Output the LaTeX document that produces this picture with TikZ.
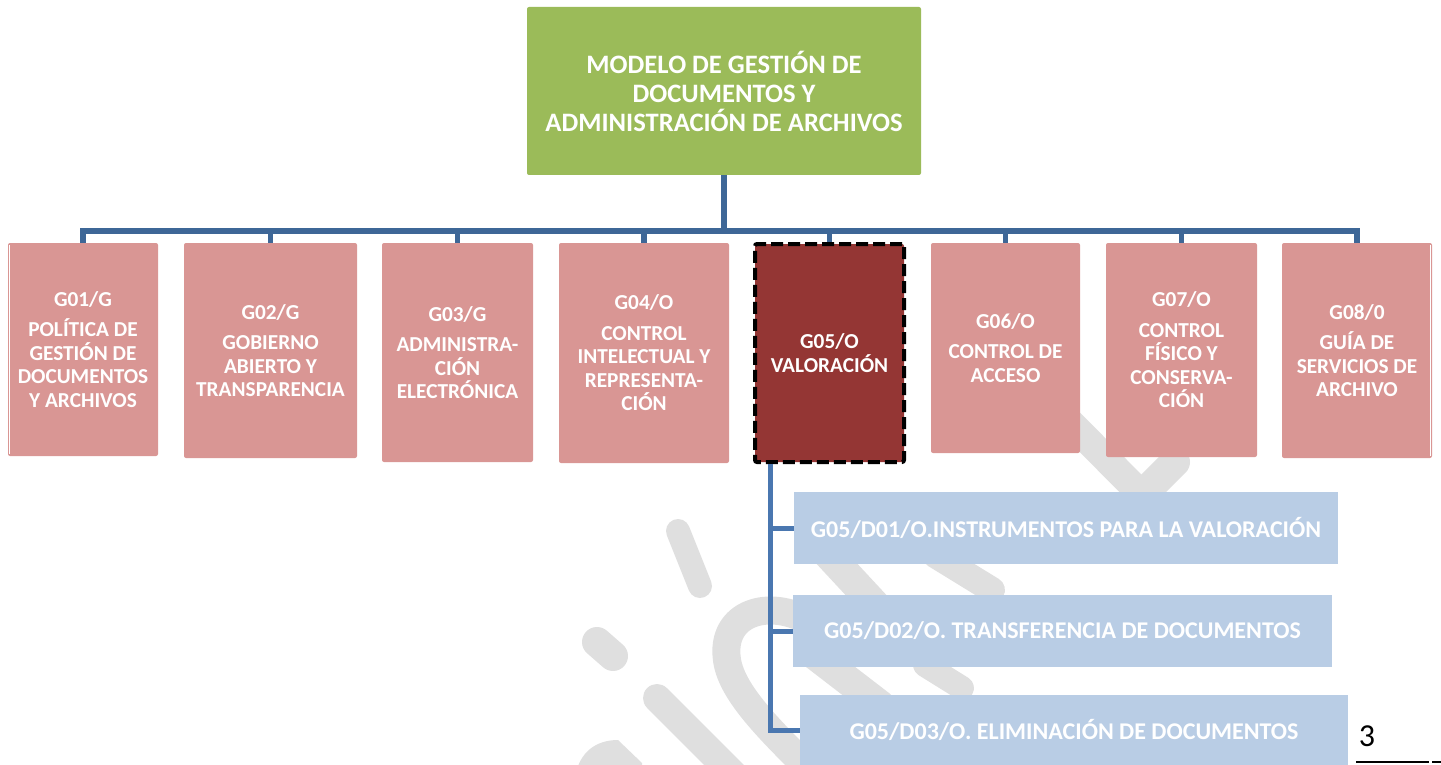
\documentclass[tikz,border=0pt]{standalone}
\usepackage{fontspec}
\setmainfont{Carlito}
\begin{document}
\definecolor{rootgreen}{HTML}{9BBB59}
\definecolor{unitpink}{HTML}{D99694}
\definecolor{unitred}{HTML}{943634}
\definecolor{docblue}{HTML}{B9CDE5}
\definecolor{busblue}{HTML}{3E6797}
\definecolor{subblue}{HTML}{4A77B0}
\definecolor{markgrey}{HTML}{DFDFDF}
\begin{tikzpicture}[x=1pt,y=-1pt,
  box/.style={rectangle,inner sep=0pt,align=center,text=white,font=\bfseries},
  rootbox/.style={box,fill=rootgreen,rounded corners=2pt,font=\fontsize{26.6}{29}\selectfont\bfseries},
  unitbox/.style={box,fill=unitpink,rounded corners=2pt,font=\fontsize{21.3}{23.5}\selectfont\bfseries},
  activebox/.style={box,fill=unitred,draw=black,line width=4pt,dash pattern=on 12pt off 5pt,rounded corners=2pt,font=\fontsize{21.3}{23.5}\selectfont\bfseries},
  docbox/.style={box,fill=docblue,font=\fontsize{24}{27}\selectfont\bfseries},
  bus/.style={draw=busblue,line width=5.5pt},
  sub/.style={draw=subblue,line width=5pt},
  logostroke/.style={draw=markgrey,line cap=round,line join=round},
]
\useasboundingbox (0,0) rectangle (1441,765);

% faint background logo strokes
\begin{scope}
\clip (0,0) rectangle (1441,765);
\draw[logostroke,line width=24pt] (678,531) -- (700,586);
\draw[logostroke,line width=30pt] (597,642) -- (613,656);
\draw[logostroke,line width=28pt] (657,698) -- (745,786);
\draw[logostroke,line width=28pt] (810,622) .. controls (770,598) and (720,612) .. (727,660)
  .. controls (732,695) and (775,735) .. (820,780);
\fill[markgrey] (578,766) .. controls (585,748) and (600,740) .. (618,740) -- (642,763) -- (642,766) -- cycle;
\draw[logostroke,line width=28pt] (1040,392) -- (1135,488);
\draw[logostroke,line width=30pt] (1175,462) -- (1120,517);
\draw[logostroke,line width=28pt] (838,532) .. controls (848,500) and (888,497) .. (905,527);
\draw[logostroke,line width=30pt] (826,552) -- (878,608);
\draw[logostroke,line width=26pt] (935,555) -- (992,590);
\draw[logostroke,line width=30pt] (815,655) -- (880,705);
\draw[logostroke,line width=24pt] (925,665) -- (962,688);
\end{scope}

% root of the model
\node[rootbox,minimum width=394pt,minimum height=168pt] (root) at (724,91)
  {MODELO DE GESTIÓN DE\\DOCUMENTOS Y\\ADMINISTRACIÓN DE ARCHIVOS};

% first level units
\node[unitbox,minimum width=150pt,minimum height=213pt] (g1) at (83,349.5)
  {G01/G\\[7pt]POLÍTICA DE\\GESTIÓN DE\\DOCUMENTOS\\Y ARCHIVOS};
\node[unitbox,minimum width=173pt,minimum height=215pt] (g2) at (270.5,350.5)
  {G02/G\\[7pt]GOBIERNO\\ABIERTO Y\\TRANSPARENCIA};
\node[unitbox,minimum width=151pt,minimum height=219pt] (g3) at (457.5,352.5)
  {G03/G\\[7pt]ADMINISTRA-\\CIÓN\\ELECTRÓNICA};
\node[unitbox,minimum width=170pt,minimum height=220pt] (g4) at (644,353)
  {G04/O\\[7pt]CONTROL\\INTELECTUAL Y\\REPRESENTA-\\CIÓN};
\node[activebox,minimum width=149pt,minimum height=218pt] (g5) at (829.5,353)
  {G05/O\\VALORACIÓN};
\node[unitbox,minimum width=149pt,minimum height=210pt] (g6) at (1005.5,348)
  {G06/O\\[7pt]CONTROL DE\\ACCESO};
\node[unitbox,minimum width=151pt,minimum height=214pt] (g7) at (1181.5,350)
  {G07/O\\[7pt]CONTROL\\FÍSICO Y\\CONSERVA-\\CIÓN};
\node[unitbox,minimum width=150pt,minimum height=215pt] (g8) at (1357,350.5)
  {G08/0\\[7pt]GUÍA DE\\SERVICIOS DE\\ARCHIVO};

% thin inner edges on the outer units
\draw[white,line width=0.8pt] ([xshift=2pt,yshift=-2pt]g1.north west) -- ([xshift=2pt,yshift=2pt]g1.south west);
\draw[white,line width=0.8pt] ([xshift=-2pt,yshift=-2pt]g8.north east) -- ([xshift=-2pt,yshift=2pt]g8.south east);

% second level documents of G05
\node[docbox,minimum width=544pt,minimum height=72pt] (d1) at (1066,528)
  {G05/D01/O.INSTRUMENTOS PARA LA VALORACIÓN};
\node[docbox,minimum width=539pt,minimum height=72pt] (d2) at (1062.5,631)
  {G05/D02/O. TRANSFERENCIA DE DOCUMENTOS};
\node[docbox,minimum width=548pt,minimum height=70pt] (d3) at (1074,730)
  {G05/D03/O. ELIMINACIÓN DE DOCUMENTOS};

% connectors from the root to each unit
\foreach \g in {g1,g2,g3,g4,g5,g6,g7,g8}
  \draw[bus] (root.south) -- ++(0,56) -| (\g.north);

% connectors from G05 to its documents
\foreach \d in {d1,d2,d3}
  \draw[sub] ([xshift=17pt]g5.south west) |- (\d.west);

% page number and footer rule
\node[font=\fontsize{32}{36}\selectfont,text=black,inner sep=0pt] (pnum) at (1367,736) {3};
\coordinate (ruleA) at (1356,762);
\coordinate (ruleB) at (1429,762);
\coordinate (ruleC) at (1432,762);
\coordinate (ruleD) at (1441,762);
\draw[black,line width=2pt] (ruleA) -- (ruleB);
\draw[black,line width=2pt] (ruleC) -- (ruleD);
\end{tikzpicture}
\end{document}
